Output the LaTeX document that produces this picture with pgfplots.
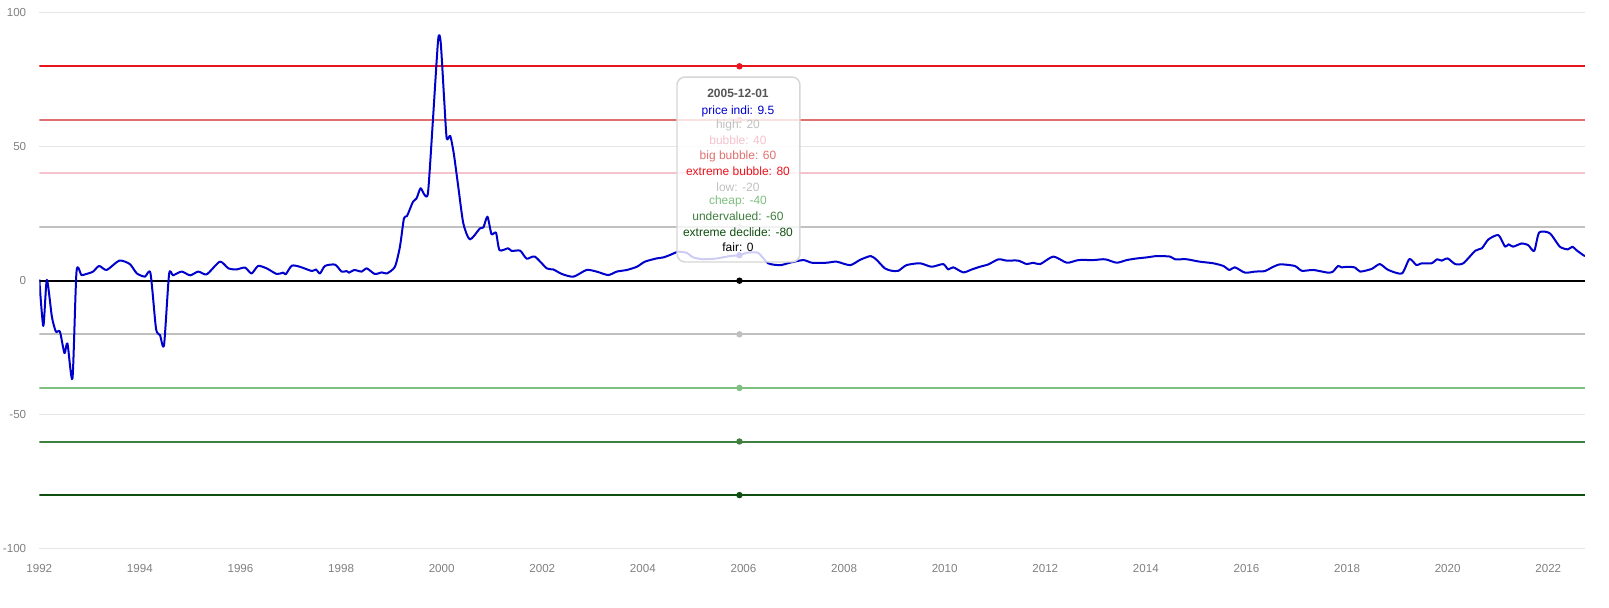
\documentclass[border=0pt]{standalone}
\usepackage{pgfplots}
\pgfplotsset{compat=1.18}
\usepackage{fontspec}
\setmainfont{Liberation Sans}
\definecolor{pricecol}{HTML}{0000CD}
\definecolor{exbub}{HTML}{E8141E}
\definecolor{bigbub}{HTML}{E07070}
\definecolor{bub}{HTML}{F6C2CE}
\definecolor{hi}{HTML}{C0C0C0}
\definecolor{cheap}{HTML}{7FBF7F}
\definecolor{under}{HTML}{3F7F3F}
\definecolor{exdec}{HTML}{0F4F0F}
\definecolor{gridc}{HTML}{E6E6E6}
\definecolor{labc}{HTML}{808080}
\definecolor{datec}{HTML}{555555}
\definecolor{tipborder}{HTML}{D6D6D6}
\pgfplotstableread{
x y
1992.00 0.5
1992.08 -16.9
1992.15 0.3
1992.25 -13.4
1992.33 -19
1992.41 -19
1992.50 -27
1992.56 -23.4
1992.66 -36.4
1992.74 3.4
1992.84 2.1
1992.97 2.7
1993.07 3.4
1993.19 5.5
1993.34 4.0
1993.59 7.5
1993.80 6.2
1993.94 2.7
1994.10 1.5
1994.21 2.8
1994.32 -17.8
1994.40 -20.3
1994.48 -24
1994.58 2.4
1994.66 2.0
1994.83 3.4
1995.00 2.0
1995.16 3.4
1995.33 2.4
1995.59 7.1
1995.76 4.6
1995.92 4.2
1996.09 4.9
1996.22 2.7
1996.35 5.5
1996.52 4.6
1996.72 2.5
1996.85 3.0
1996.90 2.4
1997.02 5.6
1997.18 5.2
1997.42 3.6
1997.50 4.2
1997.58 2.7
1997.68 5.5
1997.88 6.0
1998.01 3.4
1998.11 3.6
1998.16 3.0
1998.26 4.0
1998.41 3.4
1998.51 4.6
1998.67 2.5
1998.81 3.1
1998.91 2.7
1999.07 5.2
1999.17 12.7
1999.25 23.3
1999.31 24.1
1999.43 29.5
1999.50 30.7
1999.58 34.5
1999.66 32
1999.73 33.2
1999.83 61.2
1999.93 90.0
1999.98 89.0
2000.05 67.4
2000.10 53.1
2000.17 54
2000.24 47.5
2000.33 35
2000.43 21.4
2000.56 15.4
2000.76 19.5
2000.83 19.9
2000.91 23.9
2000.99 17.4
2001.08 17.9
2001.15 11.4
2001.32 12.1
2001.39 11.1
2001.56 11.2
2001.69 8.2
2001.85 9.0
2002.09 4.6
2002.22 4.2
2002.39 2.5
2002.62 1.5
2002.88 4.0
2003.08 3.4
2003.31 2.1
2003.48 3.4
2003.68 4.0
2003.88 5.2
2004.04 7.1
2004.27 8.3
2004.41 8.7
2004.54 9.6
2004.70 10.8
2004.87 10.4
2005.00 8.7
2005.20 8.0
2005.47 8.3
2005.73 9.2
2005.92 9.5
2006.06 10.4
2006.29 10.4
2006.49 6.5
2006.73 5.8
2006.92 6.7
2007.19 7.7
2007.36 6.7
2007.65 6.7
2007.85 7.1
2008.12 5.8
2008.32 7.8
2008.53 9.2
2008.65 7.7
2008.81 4.6
2008.95 3.7
2009.08 3.7
2009.24 5.8
2009.51 6.5
2009.74 5.2
2009.97 6.2
2010.07 4.2
2010.17 5.0
2010.37 3.1
2010.54 4.2
2010.70 5.2
2010.87 6.1
2011.07 8.0
2011.23 7.5
2011.46 7.5
2011.63 6.2
2011.76 6.7
2011.90 6.2
2012.16 9.0
2012.43 6.7
2012.66 7.7
2012.96 7.7
2013.19 8.0
2013.42 6.7
2013.62 7.7
2013.82 8.3
2014.02 8.7
2014.22 9.2
2014.48 9.0
2014.58 8.0
2014.81 8.0
2015.07 7.1
2015.34 6.5
2015.54 5.5
2015.66 4.0
2015.77 5.0
2015.97 3.0
2016.17 3.4
2016.37 3.6
2016.50 4.9
2016.67 6.1
2016.96 5.5
2017.10 3.7
2017.33 4.0
2017.62 3.0
2017.72 3.4
2017.82 5.5
2017.89 5.0
2018.02 5.2
2018.16 4.9
2018.26 3.4
2018.49 4.4
2018.65 6.2
2018.82 4.0
2019.09 2.7
2019.24 8.1
2019.38 5.8
2019.48 6.5
2019.68 6.5
2019.79 8.0
2019.88 7.5
2020.00 8.3
2020.15 6.2
2020.31 6.5
2020.55 11.2
2020.68 12.1
2020.81 15.4
2021.01 17.0
2021.14 12.7
2021.21 13.6
2021.30 12.7
2021.47 13.9
2021.60 13.3
2021.72 11.1
2021.82 18.0
2022.03 17.7
2022.23 12.7
2022.39 11.7
2022.48 12.7
2022.56 11.4
2022.69 9.6
2022.73 9.2
}\pricedata
\begin{document}
\begin{tikzpicture}
\useasboundingbox (-29.475pt,-43.725pt) rectangle (1177.275pt,411.525pt);
\begin{axis}[
  at={(0,0)}, anchor=south west,
  scale only axis, width=1159.275pt, height=402pt,
  xmin=1992, xmax=2022.73, ymin=-100, ymax=100,
  xtick={1992,1994,...,2022}, ytick={-100,-50,0,50,100},
  axis line style={draw=none}, tick style={draw=none},
  ymajorgrids, grid style={color=gridc, line width=1pt},
  /pgf/number format/1000 sep={},
  /pgf/number format/assume math mode=true,
  ticklabel style={font=\fontsize{8.7}{10}\selectfont, text=labc},
  xticklabel style={yshift=-8.5pt},
  yticklabel style={xshift=-6.3pt},
  every axis plot/.append style={line width=1.5pt},
  mark size=1.6pt,
]
\addplot[hi, mark=*, mark indices={2}] coordinates {(1992,20) (2005.92,20) (2022.73,20)};
\addplot[bub, mark=*, mark indices={2}] coordinates {(1992,40) (2005.92,40) (2022.73,40)};
\addplot[bigbub, mark=*, mark indices={2}] coordinates {(1992,60) (2005.92,60) (2022.73,60)};
\addplot[exbub, mark=*, mark indices={2}] coordinates {(1992,80) (2005.92,80) (2022.73,80)};
\addplot[hi, mark=*, mark indices={2}] coordinates {(1992,-20) (2005.92,-20) (2022.73,-20)};
\addplot[cheap, mark=*, mark indices={2}] coordinates {(1992,-40) (2005.92,-40) (2022.73,-40)};
\addplot[under, mark=*, mark indices={2}] coordinates {(1992,-60) (2005.92,-60) (2022.73,-60)};
\addplot[exdec, mark=*, mark indices={2}] coordinates {(1992,-80) (2005.92,-80) (2022.73,-80)};
\addplot[black, mark=*, mark indices={2}] coordinates {(1992,0) (2005.92,0) (2022.73,0)};
\addplot[pricecol, smooth, tension=0.4, line join=round] table[x=x,y=y] {\pricedata};
\addplot[pricecol, only marks, mark=*] coordinates {(2005.92,9.5)};
\coordinate (tipA) at (axis cs:2004.678,76.0);
\coordinate (tipB) at (axis cs:2007.123,6.98);
\coordinate (t0) at (axis cs:2005.89,69.93);
\coordinate (t1) at (axis cs:2005.89,63.32);
\coordinate (t2) at (axis cs:2005.89,57.84);
\coordinate (t3) at (axis cs:2005.89,52.24);
\coordinate (t4) at (axis cs:2005.89,46.27);
\coordinate (t5) at (axis cs:2005.89,40.67);
\coordinate (t6) at (axis cs:2005.89,35.07);
\coordinate (t7) at (axis cs:2005.89,29.48);
\coordinate (t8) at (axis cs:2005.89,23.88);
\coordinate (t9) at (axis cs:2005.89,17.91);
\coordinate (t10) at (axis cs:2005.89,12.46);
\end{axis}
\draw[draw=tipborder, line width=1.1pt, fill=white, fill opacity=0.8, rounded corners=6pt]
  (tipA) rectangle (tipB);
\begin{scope}[every node/.style={font=\fontsize{9}{11}\selectfont, inner sep=0pt, anchor=center}]
\node[text=datec, font=\fontsize{9}{11}\selectfont\bfseries] at (t0) {2005-12-01};
\node[text=pricecol] at (t1) {price indi: 9.5};
\node[text=hi] at (t2) {high: 20};
\node[text=bub] at (t3) {bubble: 40};
\node[text=bigbub] at (t4) {big bubble: 60};
\node[text=exbub] at (t5) {extreme bubble: 80};
\node[text=hi] at (t6) {low: -20};
\node[text=cheap] at (t7) {cheap: -40};
\node[text=under] at (t8) {undervalued: -60};
\node[text=exdec] at (t9) {extreme declide: -80};
\node[text=black] at (t10) {fair: 0};
\end{scope}
\end{tikzpicture}
\end{document}
